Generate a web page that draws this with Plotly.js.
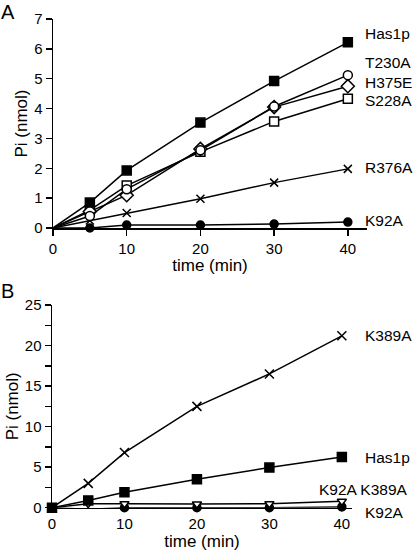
<!DOCTYPE html>
<html><head><meta charset="utf-8">
<script src="https://cdn.plot.ly/plotly-3.0.1.min.js"></script>
<style>html,body{margin:0;padding:0;background:#fff}#c{width:416px;height:553px}</style>
</head><body><div id="c"></div>
<script>
// Panel A
const timeA = [0, 5, 10, 20, 30, 40];
const has1pA = [0, 0.85, 1.93, 3.53, 4.92, 6.22];
const t230a = [0, 0.4, 1.3, 2.6, 4.07, 5.12];
const h375e = [0, 0.55, 1.1, 2.65, 4.05, 4.75];
const s228a = [0, 0.6, 1.42, 2.55, 3.57, 4.33];
const r376a = [0, 0.25, 0.5, 0.98, 1.52, 1.98];
const k92aA = [0, 0, 0.1, 0.1, 0.13, 0.2];
// Panel B
const timeB = [0, 5, 10, 20, 30, 40];
const k389a = [0, 3.0, 6.8, 12.5, 16.5, 21.2];
const has1pB = [0, 0.9, 1.9, 3.5, 4.95, 6.25];
const k92aK389a = [0, 0.5, 0.5, 0.45, 0.5, 0.8];
const k92aB = [0, -0.2, 0, 0, 0, 0.1];

const F = 'Liberation Sans, Arial, sans-serif';
const lineS = {color: '#000', width: 1.5};
function tr(x, y, sym, fill, size, xa, ya, hideFirst) {
  const sz = hideFirst ? x.map((v, i) => i === 0 ? 0 : size) : size;
  return {x: x, y: y, xaxis: xa, yaxis: ya, type: 'scatter', mode: 'lines+markers',
    line: lineS, cliponaxis: false,
    marker: {symbol: sym, size: sz, color: fill, opacity: 1, line: {color: '#000', width: 1.5}},
    showlegend: false, hoverinfo: 'skip'};
}
const data = [
  tr(timeA, k92aA, 'circle', '#000', 8, 'x', 'y', true),
  tr(timeA, r376a, 'x-thin-open', '#000', 8, 'x', 'y', true),
  tr(timeA, s228a, 'square', '#fff', 9, 'x', 'y', true),
  tr(timeA, h375e, 'diamond', '#fff', 10, 'x', 'y', true),
  tr(timeA, t230a, 'circle', '#fff', 9, 'x', 'y', true),
  tr(timeA, has1pA, 'square', '#000', 9, 'x', 'y', true),
  tr(timeB, k92aB, 'circle', '#000', 8, 'x2', 'y2', false),
  tr(timeB, k92aK389a, 'triangle-down', '#fff', 8, 'x2', 'y2', false),
  tr(timeB, has1pB, 'square', '#000', 9, 'x2', 'y2', false),
  tr(timeB, k389a, 'x-thin-open', '#000', 9, 'x2', 'y2', false)
];
const axBase = {showgrid: false, zeroline: false, showline: true, linecolor: '#000', linewidth: 1.5,
  ticks: 'outside', ticklen: 6, tickwidth: 1.5, tickcolor: '#000',
  tickfont: {family: F, size: 15, color: '#000'}, fixedrange: true};
const ttl = (t, s) => ({text: t, font: {family: F, size: 17, color: '#000'}, standoff: s});
const layout = {
  width: 416, height: 553, margin: {l: 0, r: 0, t: 0, b: 0},
  paper_bgcolor: '#fff', plot_bgcolor: 'rgba(0,0,0,0)',
  xaxis: Object.assign({}, axBase, {domain: [53/416, 367/416], range: [0, 42.6], tickvals: [0,10,20,30,40], anchor: 'y', title: ttl('time (min)', 3)}),
  yaxis: Object.assign({}, axBase, {domain: [325/553, 534/553], range: [0, 7], dtick: 1, anchor: 'x', title: ttl('Pi (nmol)', 2)}),
  xaxis2: Object.assign({}, axBase, {domain: [52/416, 352/416], range: [0, 41.4], tickvals: [0,10,20,30,40], ticklen: 2, anchor: 'y2', title: ttl('time (min)', 2)}),
  yaxis2: Object.assign({}, axBase, {domain: [45.3/553, 248/553], range: [0, 25], dtick: 5, anchor: 'x2',
    minor: {dtick: 2.5, ticks: 'outside', ticklen: 6, tickwidth: 1.5, tickcolor: '#000', showgrid: false},
    title: ttl('Pi (nmol)', 2)}),
  annotations: []
};
const labels = [
  ['A', -1, 12, 20], ['B', -1, 291, 20],
  ['Has1p', 363, 33, 15.5], ['T230A', 363, 63, 15.5], ['H375E', 363, 82, 15.5], ['S228A', 363, 100, 15.5],
  ['R376A', 363, 167, 15.5], ['K92A', 363, 220, 15.5],
  ['K389A', 363, 335, 15.5], ['Has1p', 363, 457, 15.5], ['K92A K389A', 317, 490, 15.5], ['K92A', 363, 512, 15.5]
];
labels.forEach(l => layout.annotations.push({text: l[0], xref: 'paper', yref: 'paper',
  x: l[1]/416, y: 1 - l[2]/553, xanchor: 'left', yanchor: 'middle', showarrow: false,
  font: {family: F, size: l[3], color: '#000'}}));
Plotly.newPlot('c', data, layout, {staticPlot: true});
</script></body></html>
